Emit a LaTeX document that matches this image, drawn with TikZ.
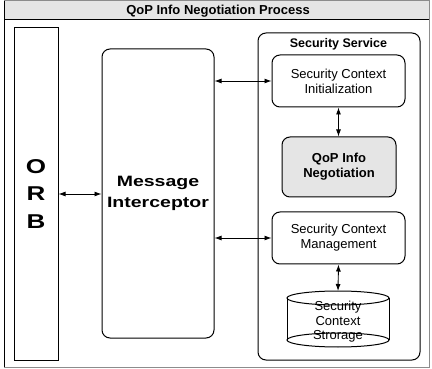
\documentclass[tikz,border=0pt]{standalone}
\usepackage{fontspec}
\setmainfont{Liberation Sans}
\newfontfamily\widefont[FakeStretch=1.3]{Liberation Sans}
\usepackage{tikz}
\usetikzlibrary{arrows.meta}

\tikzset{
  plainbox/.style={draw, line width=1pt, inner sep=0pt, align=center, font=\fontsize{13}{15}\selectfont},
  roundbox/.style={plainbox, rounded corners=8pt},
  link/.style={{Latex[length=7pt,width=5pt]}-{Latex[length=7pt,width=5pt]}, line width=0.9pt},
}

\begin{document}
\begin{tikzpicture}[x=1pt,y=1pt,yscale=-1,xscale=1]
\useasboundingbox (0,0) rectangle (432,369);
%Shape: Rectangle [frame]
\draw [fill=white, draw=black!45, line width=1pt] (4,1) rectangle (429,367);
%Shape: Rectangle [title bar]
\fill [black!10] (4.5,1.5) rectangle (428.5,20);
\draw [line width=1pt] (4,20) -- (429,20);
\draw [line width=1pt] (4,1) -- (4,367);

% Text Node
\node [font=\bfseries\fontsize{13}{15}\selectfont] (title) at (218,11) {QoP Info Negotiation Process};

%Shape: Rectangle [ORB]
\node [plainbox, minimum width=44, minimum height=332, font=\widefont\bfseries\fontsize{20}{27.5}\selectfont] (orb) at (36,194) {O\\R\\B};
%Shape: Rounded Rect [interceptor]
\node [roundbox, minimum width=112, minimum height=289, font=\widefont\bfseries\fontsize{15}{20.5}\selectfont] (mi) at (158,193.5) {Message\\Interceptor};
%Shape: Rounded Rect [security service]
\node [roundbox, minimum width=162, minimum height=327] (ss) at (339,196.5) {};
% Text Node
\node [font=\bfseries\fontsize{12.5}{14}\selectfont, anchor=base] (ssname) at (338.5,48) {Security Service};

%Shape: Rounded Rect [context init]
\node [roundbox, minimum width=133, minimum height=52] (sci) at (338.5,81) {Security Context\\Initialization};
%Shape: Rounded Rect [negotiation]
\node [roundbox, fill=black!10, minimum width=114, minimum height=60, font=\bfseries\fontsize{13}{15}\selectfont] (qop) at (339,167) {QoP Info\\Negotiation};
%Shape: Rounded Rect [context management]
\node [roundbox, minimum width=133, minimum height=52] (scm) at (338.5,238) {Security Context\\Management};

%Shape: Can [storage]
\draw [line width=1pt] (338,298) ellipse [x radius=51, y radius=7];
\draw [line width=1pt] (338,340) ellipse [x radius=51, y radius=7];
\draw [line width=1pt] (287,298) -- (287,340) (389,298) -- (389,340);
\coordinate (storetop) at (338,291);
% Text Node
\node [align=center, inner sep=0pt, font=\fontsize{13}{14.5}\selectfont] (store) at (338,322) {Security\\Context\\Strorage};

%Straight Lines
\draw [link] (orb.east) -- (orb.east -| mi.west);
\draw [link] (sci.west -| mi.east) -- (sci.west);
\draw [link] (sci.south) -- (sci.south |- qop.north);
\draw [link] (scm.west -| mi.east) -- (scm.west);
\draw [link] (scm.south) -- (storetop);
\end{tikzpicture}
\end{document}
